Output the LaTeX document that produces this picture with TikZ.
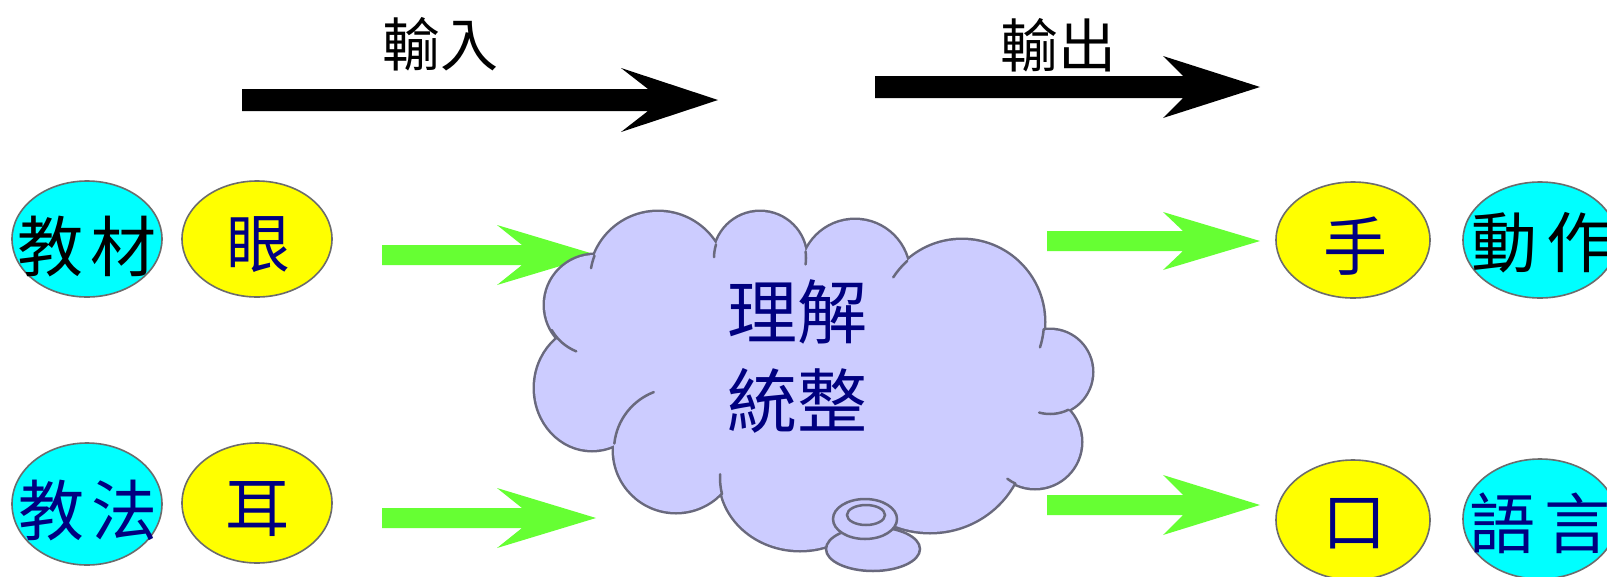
\documentclass[tikz,border=0pt]{standalone}
\usepackage{fontspec}
\newfontfamily\cjk{Noto Sans CJK TC}
\usetikzlibrary{shapes.geometric}
\definecolor{lav}{HTML}{CCCCFF}
\definecolor{cloudline}{RGB}{105,105,125}
\definecolor{arrowgreen}{HTML}{66FF33}
\definecolor{navy}{HTML}{000080}
\definecolor{cyanfill}{HTML}{00FFFF}
\definecolor{yellowfill}{HTML}{FFFF00}
\begin{document}
\begin{tikzpicture}[x=1pt,y=-1pt,
  ellbase/.style={ellipse, draw=gray!85!black, line width=1.6pt, inner sep=0pt},
  cyanell/.style={ellbase, fill=cyanfill},
  yelell/.style={ellbase, fill=yellowfill},
  lbl/.style={font=\cjk\fontsize{66pt}{70pt}\selectfont, inner sep=0pt},
  onelbl/.style={font=\cjk\fontsize{64pt}{70pt}\selectfont, inner sep=0pt, text=navy},
  toplbl/.style={font=\cjk\fontsize{58pt}{62pt}\selectfont, inner sep=0pt},
  cloudlbl/.style={font=\cjk\fontsize{70pt}{89pt}\selectfont, inner sep=0pt, text=navy, align=center},
  tick/.style={draw=cloudline, line width=2.5pt, line cap=round},
]
\clip (0,0) rectangle (1607,576);
\fill[white] (0,0) rectangle (1607,576);

% top black arrows and labels
\fill[black] (242,89) -- (648,89) -- (621,68) -- (718,100) -- (621,132) -- (648,111) -- (242,111) -- cycle;
\fill[black] (875,76) -- (1183,76) -- (1163,56) -- (1260,87) -- (1163,118) -- (1183,98) -- (875,98) -- cycle;
\node[toplbl] (inp) at (440,44) {輸入};
\node[toplbl] (outp) at (1058,45) {輸出};

% green arrows
\fill[arrowgreen] (382,245) -- (522,245) -- (497,225) -- (597,255) -- (497,285) -- (522,265) -- (382,265) -- cycle;
\fill[arrowgreen] (382,508) -- (522,508) -- (497,488) -- (596,518) -- (497,548) -- (522,528) -- (382,528) -- cycle;
\fill[arrowgreen] (1047,231) -- (1183,231) -- (1163,212) -- (1260,241) -- (1163,270) -- (1183,251) -- (1047,251) -- cycle;
\fill[arrowgreen] (1047,495) -- (1183,495) -- (1163,475) -- (1260,505) -- (1163,535) -- (1183,515) -- (1047,515) -- cycle;

% cloud: outline pass then fill pass
\foreach \cx/\cy/\rx/\ry in {595/305/50/50, 658/280/68/68, 760/258/46/46, 855/274/54/54,
   962/322/82/82, 1050/372/42/42, 1035/442/46/46, 930/440/95/92, 860/470/70/65,
   800/478/80/72, 676/450/62/62, 592/388/57/62}
  {\draw[cloudline, line width=5pt] (\cx,\cy) ellipse[x radius=\rx, y radius=\ry];}
\foreach \cx/\cy/\rx/\ry in {595/305/50/50, 658/280/68/68, 760/258/46/46, 855/274/54/54,
   962/322/82/82, 1050/372/42/42, 1035/442/46/46, 930/440/95/92, 860/470/70/65,
   800/478/80/72, 676/450/62/62, 592/388/57/62, 810/380/215/110}
  {\fill[lav] (\cx,\cy) ellipse[x radius=\rx, y radius=\ry];}

% inner ticks of the cloud
\draw[tick] (595,305) ++(150:50) arc[start angle=150, end angle=112, radius=50];
\draw[tick] (658,280) ++(201:68) arc[start angle=201, end angle=190, radius=68];
\draw[tick] (760,258) ++(197:46) arc[start angle=197, end angle=181, radius=46];
\draw[tick] (760,258) ++(-8:46) arc[start angle=-8, end angle=8, radius=46];
\draw[tick] (962,322) ++(228:82) arc[start angle=228, end angle=213, radius=82];
\draw[tick] (962,322) ++(5:82) arc[start angle=5, end angle=18, radius=82];
\draw[tick] (1050,372) ++(64:42) arc[start angle=64, end angle=105, radius=42];
\draw[tick] (1035,442) ++(115:46) arc[start angle=115, end angle=127, radius=46];
\draw[tick] (800,478) ++(167:80 and 72) arc[start angle=167, end angle=183, x radius=80, y radius=72];
\draw[tick] (676,450) ++(186:62) arc[start angle=186, end angle=249, radius=62];

% thought bubble
\filldraw[fill=lav, draw=cloudline, line width=2.5pt] (873,549) ellipse[x radius=47, y radius=22];
\filldraw[fill=lav, draw=cloudline, line width=2.5pt] (865,519) ellipse[x radius=32, y radius=20];
\draw[cloudline, line width=2.5pt] (866,515) ellipse[x radius=19, y radius=10];

\node[cloudlbl] (think) at (797,356) {理解\\統整};

% left ellipses
\node[cyanell, minimum width=150pt, minimum height=116pt] (jc) at (87,239) {};
\node[yelell, minimum width=150pt, minimum height=116pt] (yan) at (257,239) {};
\node[cyanell, minimum width=150pt, minimum height=122pt] (jf) at (87,504) {};
\node[yelell, minimum width=150pt, minimum height=120pt] (er) at (257,503) {};
% right ellipses
\node[yelell, minimum width=154pt, minimum height=116pt] (shou) at (1353,240) {};
\node[cyanell, minimum width=154pt, minimum height=116pt] (dz) at (1540,240) {};
\node[yelell, minimum width=154pt, minimum height=120pt] (kou) at (1353,520) {};
\node[cyanell, minimum width=154pt, minimum height=120pt] (yy) at (1540,519) {};

\node[lbl, text=black] (jcT) at (87,247) {教\hspace{7pt}材};
\node[onelbl] (yanT) at (258,245) {眼};
\node[lbl, text=navy] (jfT) at (88,511) {教\hspace{7pt}法};
\node[onelbl] (erT) at (257,509) {耳};
\node[onelbl] (shouT) at (1355,246) {手};
\node[lbl, text=black] (dzT) at (1542,243) {動\hspace{10pt}作};
\node[onelbl] (kouT) at (1354,524) {口};
\node[lbl, text=navy] (yyT) at (1540,523) {語\hspace{9pt}言};
\end{tikzpicture}
\end{document}
